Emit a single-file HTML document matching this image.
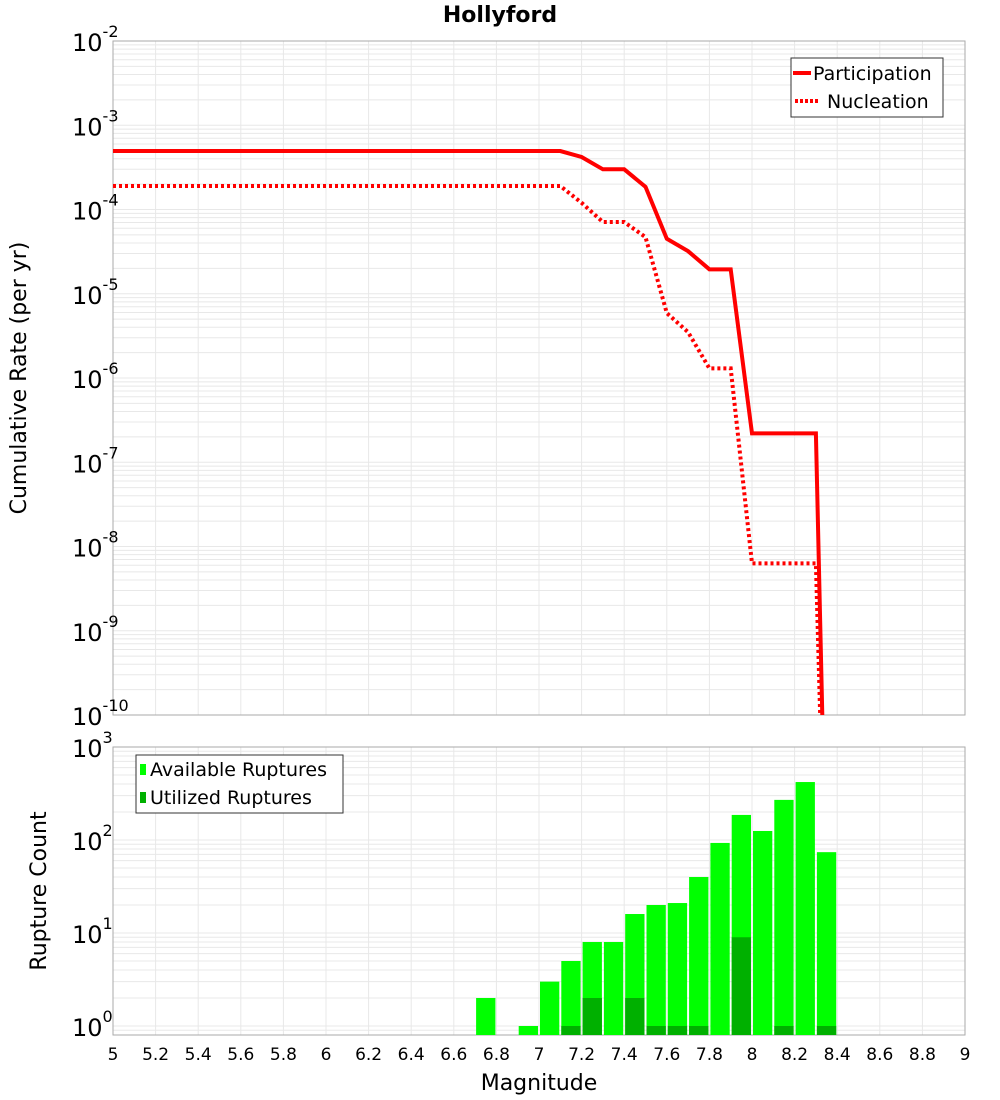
<!DOCTYPE html>
<html><head><meta charset="utf-8"><style>
body{margin:0;background:#fff;}
svg{display:block;font-family:"DejaVu Sans","Liberation Sans",sans-serif;}
</style></head><body>
<svg id="c" width="1000" height="1100" xmlns="http://www.w3.org/2000/svg">
<text x="500" y="22" text-anchor="middle" font-size="22" font-weight="bold">Hollyford</text>
<text transform="translate(26,378) rotate(-90)" text-anchor="middle" font-size="22">Cumulative Rate (per yr)</text>
<text transform="translate(46,891) rotate(-90)" text-anchor="middle" font-size="22">Rupture Count</text>
<text x="539" y="1090" text-anchor="middle" font-size="22">Magnitude</text>
</svg>
<script>
const partMags=[5,7.1,7.2,7.3,7.4,7.5,7.6,7.7,7.8,7.9,8.0,8.3,8.33];
const partVals=[4.94e-4,4.94e-4,4.2e-4,3.0e-4,3.0e-4,1.86e-4,4.5e-5,3.2e-5,1.95e-5,1.95e-5,2.2e-7,2.2e-7,1e-10];
const nuclMags=[5,7.1,7.2,7.3,7.4,7.5,7.6,7.7,7.8,7.9,8.0,8.3,8.32];
const nuclVals=[1.9e-4,1.9e-4,1.2e-4,7.1e-5,7.1e-5,4.7e-5,5.9e-6,3.5e-6,1.3e-6,1.3e-6,6.3e-9,6.3e-9,1e-10];
const barMags=[6.75,6.95,7.05,7.15,7.25,7.35,7.45,7.55,7.65,7.75,7.85,7.95,8.05,8.15,8.25,8.35];
const availCounts=[2,1,3,5,8,8,16,20,21,40,93,186,125,270,420,74];
const usedCounts=[0,0,0,1,2,0,2,1,1,1,0,9,0,1,0,1];
const xTicks=[5,5.2,5.4,5.6,5.8,6,6.2,6.4,6.6,6.8,7,7.2,7.4,7.6,7.8,8,8.2,8.4,8.6,8.8,9];
const topExp=[-2,-3,-4,-5,-6,-7,-8,-9,-10];
const botExp=[0,1,2,3];

const NS="http://www.w3.org/2000/svg",svg=document.getElementById('c');
function mk(t,a,p){const e=document.createElementNS(NS,t);for(const k in a)e.setAttribute(k,a[k]);(p||svg).appendChild(e);return e;}
const X0=113,X1=965;
const xs=m=>X0+(m-5)/4*(X1-X0);
const TY0=41,TY1=715;
const ty=v=>TY0+(-2-Math.log10(v))/8*(TY1-TY0);
const BY0=747,DEC=93;
const by=v=>BY0+(3-Math.log10(v))*DEC;
const BYB=1035;

// clip paths
const defs=mk('defs',{});
const cp=mk('clipPath',{id:'tc'},defs);mk('rect',{x:X0,y:TY0,width:X1-X0,height:TY1-TY0},cp);
const cp2=mk('clipPath',{id:'bc'},defs);mk('rect',{x:X0,y:BY0,width:X1-X0,height:BYB-BY0},cp2);

// grids
const grid=mk('g',{stroke:'#e8e8e8','stroke-width':1});

xTicks.forEach(t=>{const x=xs(t);mk('line',{x1:x,x2:x,y1:TY0,y2:TY1},grid);mk('line',{x1:x,x2:x,y1:BY0,y2:BYB},grid);});
for(let e=-10;e<-2;e++)for(let k=1;k<10;k++){const y=ty(k*Math.pow(10,e));mk('line',{x1:X0,x2:X1,y1:y,y2:y},grid);}
for(let e=-1;e<3;e++)for(let k=1;k<10;k++){const y=by(k*Math.pow(10,e));if(y<BYB&&y>BY0)mk('line',{x1:X0,x2:X1,y1:y,y2:y},grid);}

// plot frames
const f1=mk('rect',{x:X0,y:TY0,width:X1-X0,height:TY1-TY0,fill:'none',stroke:'#aaa'});

const f2=mk('rect',{x:X0,y:BY0,width:X1-X0,height:BYB-BY0,fill:'none',stroke:'#aaa'});


// lines
const lg=mk('g',{'clip-path':'url(#tc)'});
const pl=mk('polyline',{points:partMags.map((m,i)=>xs(m)+','+ty(partVals[i])).join(' '),fill:'none',stroke:'#f00','stroke-width':4},lg);

const nl=mk('polyline',{points:nuclMags.map((m,i)=>xs(m)+','+ty(nuclVals[i])).join(' '),fill:'none',stroke:'#f00','stroke-width':4,'stroke-dasharray':'3,3'},lg);


// bars
const bg=mk('g',{'clip-path':'url(#bc)'});
const bw=(X1-X0)/40;
barMags.forEach((m,i)=>{
  const x=xs(m)-bw/2+1,w=bw-2;
  if(availCounts[i]>0){const y=by(availCounts[i]);const r=mk('rect',{x:x,y:y,width:w,height:BYB-y,fill:'#00ff00'},bg);
    }
  if(usedCounts[i]>0){const y=by(usedCounts[i]);const r=mk('rect',{x:x,y:y,width:w,height:BYB-y,fill:'#00b000'},bg);
    }
});

// x tick labels
xTicks.forEach(t=>{const tx=mk('text',{x:xs(t),y:1060,'text-anchor':'middle','font-size':17});tx.textContent=String(+t.toFixed(1));
  });
// y tick labels
function ylab(y,e,name){const t=mk('text',{x:72,y:y+10,'font-size':24});
  t.textContent='10';const s=mk('tspan',{dy:-14,'font-size':16},t);s.textContent=String(e);}
topExp.forEach(e=>ylab(ty(Math.pow(10,e)),e,'top-y-tick-label'));
botExp.forEach(e=>ylab(by(Math.pow(10,e)),e,'bottom-y-tick-label'));

// legends
const l1=mk('g',{});
mk('rect',{x:791,y:58,width:152,height:59,fill:'#fff',stroke:'#333'},l1);
mk('line',{x1:793,x2:811,y1:73,y2:73,stroke:'#f00','stroke-width':4},l1);
mk('line',{x1:795,x2:820,y1:101,y2:101,stroke:'#f00','stroke-width':4,'stroke-dasharray':'3,2'},l1);
let t=mk('text',{x:813,y:80,'font-size':19},l1);t.textContent='Participation';
t=mk('text',{x:827,y:108,'font-size':19},l1);t.textContent='Nucleation';
const l2=mk('g',{});
mk('rect',{x:136,y:755,width:207,height:58,fill:'#fff',stroke:'#333'},l2);
mk('rect',{x:140,y:764,width:6,height:11,fill:'#00ff00'},l2);
mk('rect',{x:140,y:792,width:6,height:11,fill:'#00b000'},l2);
t=mk('text',{x:150,y:776,'font-size':19},l2);t.textContent='Available Ruptures';
t=mk('text',{x:150,y:804,'font-size':19},l2);t.textContent='Utilized Ruptures';
</script>
</body></html>
